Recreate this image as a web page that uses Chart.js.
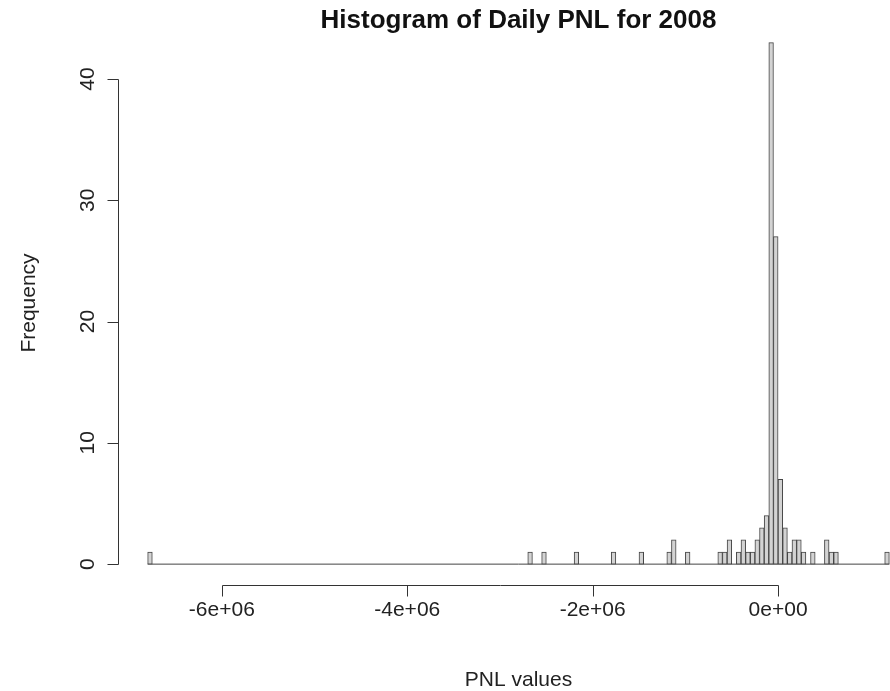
<!DOCTYPE html>
<html lang="en">
<head>
<meta charset="UTF-8" />
<title>Histogram of Daily PNL for 2008</title>
<script src="https://cdn.jsdelivr.net/npm/chart.js"></script>
<style>
  html, body { margin: 0; padding: 0; background: #fff; overflow: hidden; }
  #wrap { width: 890px; height: 691px; overflow: hidden; }
  canvas { display: block; }
</style>
</head>
<body>
<div id="wrap"><canvas id="hist" width="1040" height="691"></canvas></div>
<script>
  // histogram bins are 50 000 wide; only non-empty bins listed (left edge, count)
  const binWidth = 50000;
  const binLeft = [
    -6800000, -2700000, -2550000, -2200000, -1800000, -1500000, -1200000, -1150000, -1000000,
    -650000, -600000, -550000, -450000, -400000, -350000, -300000, -250000, -200000, -150000,
    -100000, -50000, 0, 50000, 100000, 150000, 200000, 250000, 350000, 500000, 550000, 600000,
    1150000
  ];
  const binCount = [
    1, 1, 1, 1, 1, 1, 1, 2, 1,
    1, 1, 2, 1, 2, 1, 1, 2, 3, 4,
    43, 27, 7, 3, 1, 2, 2, 1, 1, 2, 1, 1,
    1
  ];
  const breakRange = [-6800000, 1200000];
  const xTicks = [-6000000, -4000000, -2000000, 0];
  const xTickLabels = ['-6e+06', '-4e+06', '-2e+06', '0e+00'];
  const yTicks = [0, 10, 20, 30, 40];

  const font = '"Liberation Sans", Arial, sans-serif';

  // R style axes: line only over the tick range, ticks outside, y labels rotated
  const rAxes = {
    id: 'rAxes',
    afterDraw(chart) {
      const { ctx, chartArea, scales: { x, y } } = chart;
      ctx.save();
      ctx.strokeStyle = '#333';
      ctx.fillStyle = '#222';
      ctx.lineWidth = 1;
      ctx.font = '21px ' + font;

      // x axis
      const yb = Math.round(chartArea.bottom) + 0.5;
      ctx.beginPath();
      ctx.moveTo(Math.round(x.getPixelForValue(xTicks[0])) + 0.5, yb);
      ctx.lineTo(Math.round(x.getPixelForValue(xTicks[xTicks.length - 1])) + 0.5, yb);
      xTicks.forEach(v => {
        const px = Math.round(x.getPixelForValue(v)) + 0.5;
        ctx.moveTo(px, yb);
        ctx.lineTo(px, yb + 11);
      });
      ctx.stroke();
      ctx.textAlign = 'center';
      ctx.textBaseline = 'middle';
      xTicks.forEach((v, i) => ctx.fillText(xTickLabels[i], x.getPixelForValue(v), 610));
      ctx.fillText('PNL values', (chartArea.left + chartArea.right) / 2, 680);

      // y axis
      const xl = Math.round(chartArea.left) + 0.5;
      ctx.beginPath();
      ctx.moveTo(xl, Math.round(y.getPixelForValue(yTicks[0])) + 0.5);
      ctx.lineTo(xl, Math.round(y.getPixelForValue(yTicks[yTicks.length - 1])) + 0.5);
      yTicks.forEach(v => {
        const py = Math.round(y.getPixelForValue(v)) + 0.5;
        ctx.moveTo(xl, py);
        ctx.lineTo(xl - 11, py);
      });
      ctx.stroke();
      yTicks.forEach(v => {
        ctx.save();
        ctx.translate(88, y.getPixelForValue(v));
        ctx.rotate(-Math.PI / 2);
        ctx.fillText(String(v), 0, 0);
        ctx.restore();
      });
      ctx.save();
      ctx.translate(29, 303);
      ctx.rotate(-Math.PI / 2);
      ctx.fillText('Frequency', 0, 0);
      ctx.restore();

      ctx.restore();
    }
  };

  new Chart(document.getElementById('hist'), {
    type: 'bar',
    data: {
      datasets: [
        {
          type: 'bar',
          label: 'Frequency',
          data: binLeft.map((b, i) => ({ x: b + binWidth / 2, y: binCount[i] })),
          backgroundColor: '#d3d3d3',
          borderColor: '#444',
          borderWidth: 1,
          borderSkipped: false,
          barPercentage: 1,
          categoryPercentage: 1,
          order: 1
        },
        {
          // zero-height bins still show as the base line in R
          type: 'line',
          data: breakRange.map(v => ({ x: v, y: 0 })),
          borderColor: '#444',
          borderWidth: 1,
          pointRadius: 0,
          order: 2
        }
      ]
    },
    options: {
      responsive: false,
      animation: false,
      layout: { padding: { left: 118, right: 121, top: 0, bottom: 106 } },
      scales: {
        x: { type: 'linear', min: -7120000, max: 1520000, offset: false, display: false },
        y: { min: -1.72, max: 43.55, display: false }
      },
      plugins: {
        legend: { display: false },
        tooltip: { enabled: false },
        title: {
          display: true,
          text: 'Histogram of Daily PNL for 2008',
          color: '#111',
          font: { family: font, size: 26, weight: 'bold', lineHeight: 1.15 },
          padding: { top: 6, bottom: 0 }
        }
      }
    },
    plugins: [rAxes]
  });
</script>
</body>
</html>
